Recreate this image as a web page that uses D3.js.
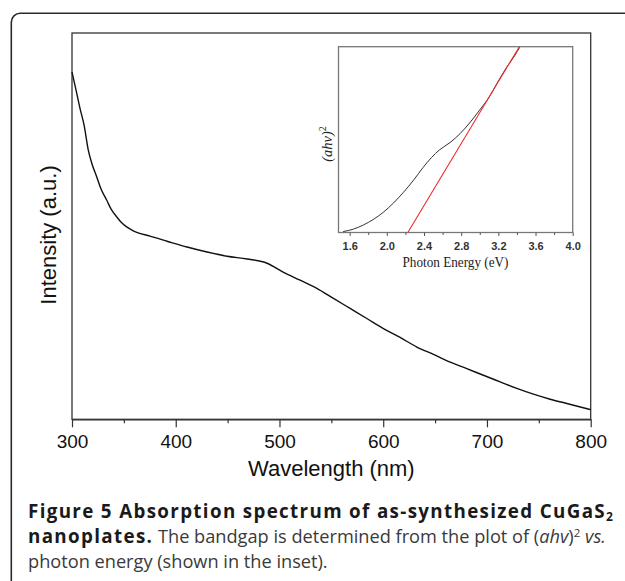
<!DOCTYPE html>
<html>
<head>
<meta charset="utf-8">
<script src="https://cdn.jsdelivr.net/npm/d3@7/dist/d3.min.js"></script>
<style>
  html, body { margin: 0; padding: 0; background: #fff; }
  svg { display: block; }
</style>
</head>
<body>
<svg id="chart" width="625" height="581"></svg>
<script>
// ---- Main spectrum data (wavelength nm, relative intensity a.u.) ----
const wavelength = [300, 303.9, 307.7, 311.6, 315.7, 319.3, 323.8, 328.0, 333.5, 337.7, 343.1, 347.4, 352.7, 359.1,
  375.2, 391.6, 410.9, 430.2, 449.5, 468.8, 488.0, 503.5, 519.9, 536.0, 552.0, 568.1, 584.2, 600.2, 616.3,
  632.4, 648.4, 664.5, 680.6, 696.6, 712.7, 728.8, 744.8, 760.9, 777.0, 800];
const intensity = [0.899, 0.852, 0.805, 0.762, 0.697, 0.661, 0.628, 0.596, 0.567, 0.544, 0.524, 0.510, 0.498, 0.488,
  0.474, 0.461, 0.446, 0.433, 0.422, 0.415, 0.404, 0.381, 0.360, 0.339, 0.313, 0.287, 0.261, 0.235, 0.212,
  0.187, 0.168, 0.148, 0.131, 0.114, 0.097, 0.080, 0.065, 0.052, 0.041, 0.025];
const mainTicks = [300, 400, 500, 600, 700, 800];
const mainMinorTicks = [350, 450, 550, 650, 750];

// ---- Inset data: photon energy (eV) vs (ahv)^2 ----
const energy = [1.53, 1.64, 1.75, 1.86, 1.96, 2.07, 2.18, 2.29, 2.39, 2.48, 2.57, 2.68, 2.79, 2.90, 3.00, 3.08, 3.20, 3.29, 3.38, 3.43];
const ahv2 = [0.005, 0.018, 0.041, 0.072, 0.108, 0.158, 0.217, 0.283, 0.350, 0.403, 0.446, 0.484, 0.533, 0.595, 0.66, 0.713, 0.815, 0.89, 0.955, 0.997];
const fitEnergy = [2.226, 3.426];
const fitValue = [0, 1];
const insetTicks = [1.6, 2.0, 2.4, 2.8, 3.2, 3.6, 4.0];
const insetMinorTicks = [1.8, 2.2, 2.6, 3.0, 3.4, 3.8];

const svg = d3.select("#chart");

// Outer rounded frame (only top and left visible)
svg.append("path")
  .attr("d", "M 630 13.3 L 20.5 13.3 A 9 9 0 0 0 11.3 22.5 L 11.3 590")
  .attr("fill", "none").attr("stroke", "#2a2a2a").attr("stroke-width", 1.6);

// ---------- Main plot ----------
const M = { left: 72, right: 590.7, top: 33, bottom: 419.3 };
const x = d3.scaleLinear().domain([300, 800]).range([M.left, M.right]);
const y = d3.scaleLinear().domain([0, 1]).range([M.bottom, M.top]);

const gMain = svg.append("g");
gMain.append("rect")
  .attr("x", M.left).attr("y", M.top)
  .attr("width", M.right - M.left).attr("height", M.bottom - M.top)
  .attr("fill", "none").attr("stroke", "#333").attr("stroke-width", 1.3);

const xAxis = d3.axisBottom(x).tickValues(mainTicks).tickSize(8).tickSizeOuter(0).tickFormat(d3.format("d"));
const gx = gMain.append("g").attr("transform", `translate(0,${M.bottom})`).call(xAxis);
gx.select(".domain").attr("stroke", "#333").attr("stroke-width", 1.3);
gx.selectAll(".tick line").attr("stroke", "#333").attr("stroke-width", 1.2);
gx.selectAll(".tick text")
  .attr("font-family", "Liberation Sans, Arial, sans-serif").attr("font-size", 19)
  .attr("fill", "#111").attr("dy", null).attr("y", 29);

const xMinor = d3.axisBottom(x).tickValues(mainMinorTicks).tickSize(4).tickSizeOuter(0).tickFormat("");
const gxm = gMain.append("g").attr("transform", `translate(0,${M.bottom})`).call(xMinor);
gxm.select(".domain").remove();
gxm.selectAll(".tick line").attr("stroke", "#333").attr("stroke-width", 1.2);

gMain.append("text")
  .attr("x", (M.left + M.right) / 2).attr("y", 476)
  .attr("text-anchor", "middle")
  .attr("font-family", "Liberation Sans, Arial, sans-serif").attr("font-size", 22)
  .attr("fill", "#111").text("Wavelength (nm)");

gMain.append("text")
  .attr("transform", "translate(56,235) rotate(-90)")
  .attr("text-anchor", "middle")
  .attr("font-family", "Liberation Sans, Arial, sans-serif").attr("font-size", 22)
  .attr("fill", "#111").text("Intensity (a.u.)");

const mainData = wavelength.map((w, i) => [w, intensity[i]]);
gMain.append("path")
  .datum(mainData)
  .attr("d", d3.line().x(d => x(d[0])).y(d => y(d[1])).curve(d3.curveMonotoneX))
  .attr("fill", "none").attr("stroke", "#111").attr("stroke-width", 1.4);

// ---------- Inset ----------
const I = { left: 338.5, right: 572.7, top: 46.7, bottom: 232.5 };
const xi = d3.scaleLinear().domain([1.48, 4.0]).range([I.left, I.right]);
const yi = d3.scaleLinear().domain([0, 1]).range([I.bottom, I.top]);

const gIn = svg.append("g");
gIn.append("rect")
  .attr("x", I.left).attr("y", I.top)
  .attr("width", I.right - I.left).attr("height", I.bottom - I.top)
  .attr("fill", "#fff").attr("stroke", "#777").attr("stroke-width", 1.3);

const xiAxis = d3.axisBottom(xi).tickValues(insetTicks).tickSize(3.5).tickSizeOuter(0).tickFormat(d3.format(".1f"));
const gxi = gIn.append("g").attr("transform", `translate(0,${I.bottom})`).call(xiAxis);
gxi.select(".domain").remove();
gxi.selectAll(".tick line").attr("stroke", "#555").attr("stroke-width", 1);
gxi.selectAll(".tick text")
  .attr("font-family", "Liberation Sans, Arial, sans-serif").attr("font-size", 11)
  .attr("font-weight", "bold").attr("fill", "#333").attr("dy", null).attr("y", 17);

const xiMinor = d3.axisBottom(xi).tickValues(insetMinorTicks).tickSize(2.5).tickSizeOuter(0).tickFormat("");
const gxim = gIn.append("g").attr("transform", `translate(0,${I.bottom})`).call(xiMinor);
gxim.select(".domain").remove();
gxim.selectAll(".tick line").attr("stroke", "#555").attr("stroke-width", 1);

gIn.append("text")
  .attr("x", 455.5).attr("y", 266.5)
  .attr("text-anchor", "middle")
  .attr("font-family", "Liberation Serif, Times New Roman, serif").attr("font-size", 15.5)
  .attr("textLength", 106).attr("lengthAdjust", "spacingAndGlyphs")
  .attr("fill", "#222").text("Photon Energy (eV)");

const yLab = gIn.append("text")
  .attr("transform", "translate(331.5,144) rotate(-90)")
  .attr("text-anchor", "middle")
  .attr("font-family", "Liberation Serif, Times New Roman, serif").attr("font-size", 14.5)
  .attr("fill", "#222");
yLab.append("tspan").attr("font-style", "italic").text("(ahv)");
yLab.append("tspan").attr("font-size", 10).attr("dy", -6).text("2");

const insetData = energy.map((e, i) => [e, ahv2[i]]);
gIn.append("path")
  .datum(insetData)
  .attr("d", d3.line().x(d => xi(d[0])).y(d => yi(d[1])).curve(d3.curveMonotoneX))
  .attr("fill", "none").attr("stroke", "#333").attr("stroke-width", 1);

const fitData = fitEnergy.map((e, i) => [e, fitValue[i]]);
gIn.append("path")
  .datum(fitData)
  .attr("d", d3.line().x(d => xi(d[0])).y(d => yi(d[1])))
  .attr("fill", "none").attr("stroke", "#ee2b2b").attr("stroke-width", 1.1);

// ---------- Caption ----------
const capFont = "Open Sans, Noto Sans, sans-serif";
const capSize = 18.8;
const regSize = 18.2;
const grey = "#3a3a3a";

const cap1 = svg.append("text").attr("x", 28).attr("y", 518)
  .attr("font-family", capFont).attr("font-size", capSize).attr("fill", "#1a1a1a").attr("font-weight", "bold");
const cap1a = cap1.append("tspan").text("Figure 5 Absorption spectrum of as-synthesized CuGaS");
cap1.append("tspan").attr("font-size", 12).attr("dy", 3).text("2");

// stretch bold text spacing to span the caption width of the reference
const boldTarget = 578;
const wBold = cap1a.node().getComputedTextLength();
const nBold = cap1a.text().length;
const boldLS = Math.max(0, (boldTarget - wBold) / nBold);
cap1a.attr("letter-spacing", boldLS);

const cap2 = svg.append("text").attr("x", 28).attr("y", 543)
  .attr("font-family", capFont).attr("font-size", regSize).attr("fill", "#1a1a1a");
cap2.append("tspan").attr("font-weight", "bold").attr("font-size", capSize).attr("letter-spacing", boldLS).text("nanoplates.");
cap2.append("tspan").attr("fill", grey).text(" The bandgap is determined from the plot of (");
cap2.append("tspan").attr("fill", grey).attr("font-style", "italic").text("ahv");
cap2.append("tspan").attr("fill", grey).text(")");
cap2.append("tspan").attr("fill", grey).attr("font-size", 11.5).attr("dy", -6).text("2");
cap2.append("tspan").attr("fill", grey).attr("font-style", "italic").attr("dy", 6).text(" vs.");

svg.append("text").attr("x", 28).attr("y", 568)
  .attr("font-family", capFont).attr("font-size", regSize).attr("fill", grey)
  .text("photon energy (shown in the inset).");
</script>
</body>
</html>
